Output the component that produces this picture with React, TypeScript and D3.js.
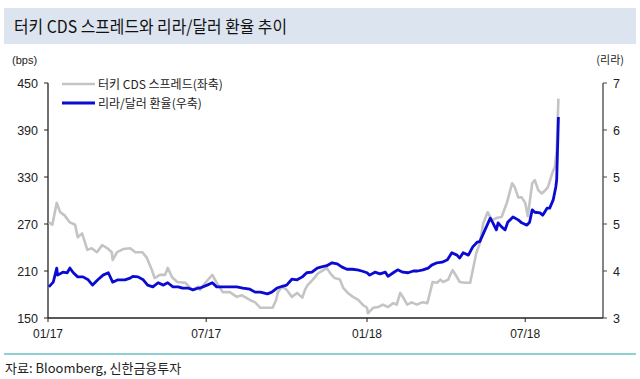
import React from "react";
import * as d3 from "d3";

const TITLE = "터키 CDS 스프레드와 리라/달러 환율 추이";
const SOURCE = "자료: Bloomberg, 신한금융투자";
const LEGEND_CDS = "터키 CDS 스프레드(좌축)";
const LEGEND_TRY = "리라/달러 환율(우축)";

const xTickDates = ["2017-01-01", "2017-07-01", "2018-01-01", "2018-07-01"];
const xTickLabels = ["01/17", "07/17", "01/18", "07/18"];
const leftTicks = [150, 210, 270, 330, 390, 450];
const rightTicks = [3, 3.8, 4.6, 5.4, 6.2, 7];

const cdsDates = [
  "2017-01-02","2017-01-06","2017-01-11","2017-01-15","2017-01-20","2017-01-26","2017-02-01","2017-02-04","2017-02-09","2017-02-15",
  "2017-02-20","2017-02-26","2017-03-04","2017-03-10","2017-03-15","2017-03-16","2017-03-21","2017-03-28","2017-04-05","2017-04-11",
  "2017-04-19","2017-04-24","2017-04-30","2017-05-03","2017-05-09","2017-05-15","2017-05-18","2017-05-23","2017-05-29","2017-06-07",
  "2017-06-15","2017-06-22","2017-06-24","2017-06-30","2017-07-08","2017-07-13","2017-07-20","2017-07-28","2017-08-05","2017-08-11",
  "2017-08-14","2017-08-20","2017-08-26","2017-09-01","2017-09-09","2017-09-15","2017-09-19","2017-09-21","2017-09-26","2017-10-01",
  "2017-10-07","2017-10-13","2017-10-19","2017-10-22","2017-10-25","2017-10-31","2017-11-06","2017-11-12","2017-11-16","2017-11-20",
  "2017-11-25","2017-12-01","2017-12-05","2017-12-10","2017-12-16","2017-12-22","2017-12-27","2018-01-01","2018-01-02","2018-01-08",
  "2018-01-14","2018-01-19","2018-01-25","2018-01-31","2018-02-04","2018-02-08","2018-02-11","2018-02-16","2018-02-21","2018-02-27",
  "2018-03-05","2018-03-11","2018-03-14","2018-03-17","2018-03-22","2018-03-26","2018-03-29","2018-04-04","2018-04-07","2018-04-09",
  "2018-04-14","2018-04-17","2018-04-23","2018-04-29","2018-05-02","2018-05-06","2018-05-10","2018-05-14","2018-05-19","2018-05-24",
  "2018-05-30","2018-06-04","2018-06-10","2018-06-16","2018-06-19","2018-06-23","2018-06-27","2018-07-01","2018-07-04","2018-07-09",
  "2018-07-12","2018-07-16","2018-07-20","2018-07-24","2018-07-27","2018-08-01","2018-08-04","2018-08-06","2018-08-08"
];
const cdsValues = [
  272,269,297,285,281,272,269,253,258,237,
  239,234,243,239,234,224,234,238,239,234,
  234,227,211,201,205,205,214,202,196,195,
  186,190,186,195,205,195,183,183,177,179,
  177,173,170,163,163,163,173,183,190,186,
  177,182,176,186,192,199,207,211,214,207,
  201,199,188,182,177,173,167,163,156,163,
  164,167,164,169,167,182,177,167,170,167,
  170,169,182,196,195,199,196,199,207,211,
  202,196,195,195,211,233,245,271,285,275,
  278,279,297,322,317,304,304,297,280,322,
  326,313,309,313,317,335,343,364,430
];

const tryDates = [
  "2017-01-02","2017-01-07","2017-01-11","2017-01-12","2017-01-18","2017-01-23","2017-01-26","2017-01-30","2017-02-04","2017-02-10",
  "2017-02-16","2017-02-21","2017-02-27","2017-03-05","2017-03-11","2017-03-16","2017-03-22","2017-03-30","2017-04-05","2017-04-08",
  "2017-04-14","2017-04-20","2017-04-25","2017-05-01","2017-05-07","2017-05-13","2017-05-18","2017-05-24","2017-05-30","2017-06-04",
  "2017-06-10","2017-06-16","2017-06-22","2017-06-24","2017-07-02","2017-07-08","2017-07-13","2017-07-20","2017-07-28","2017-08-05",
  "2017-08-12","2017-08-20","2017-08-26","2017-09-01","2017-09-09","2017-09-14","2017-09-20","2017-09-26","2017-10-01","2017-10-07",
  "2017-10-13","2017-10-19","2017-10-24","2017-10-30","2017-11-05","2017-11-10","2017-11-16","2017-11-22","2017-11-28","2017-12-03",
  "2017-12-09","2017-12-15","2017-12-21","2017-12-26","2018-01-01","2018-01-04","2018-01-10","2018-01-16","2018-01-22","2018-01-25",
  "2018-01-31","2018-02-05","2018-02-11","2018-02-17","2018-02-23","2018-02-28","2018-03-06","2018-03-12","2018-03-16","2018-03-22",
  "2018-03-28","2018-04-03","2018-04-08","2018-04-14","2018-04-17","2018-04-21","2018-04-27","2018-05-02","2018-05-07","2018-05-10",
  "2018-05-16","2018-05-22","2018-05-25","2018-05-29","2018-05-31","2018-06-04","2018-06-08","2018-06-11","2018-06-17","2018-06-23",
  "2018-06-27","2018-07-03","2018-07-06","2018-07-09","2018-07-12","2018-07-18","2018-07-21","2018-07-26","2018-07-29","2018-08-02",
  "2018-08-05","2018-08-06","2018-08-08"
];
const tryValues = [
  3.53,3.61,3.85,3.73,3.78,3.77,3.85,3.77,3.70,3.70,
  3.65,3.56,3.65,3.73,3.77,3.61,3.65,3.65,3.68,3.71,
  3.70,3.65,3.56,3.53,3.60,3.56,3.60,3.53,3.53,3.51,
  3.51,3.48,3.51,3.51,3.56,3.60,3.53,3.53,3.53,3.53,
  3.51,3.49,3.44,3.44,3.41,3.44,3.51,3.54,3.56,3.66,
  3.65,3.70,3.77,3.78,3.85,3.87,3.89,3.94,3.92,3.87,
  3.83,3.83,3.82,3.80,3.77,3.73,3.78,3.75,3.78,3.71,
  3.77,3.82,3.78,3.77,3.80,3.80,3.82,3.85,3.90,3.94,
  3.95,3.99,4.11,4.07,4.02,4.11,4.07,4.21,4.29,4.30,
  4.50,4.70,4.62,4.50,4.62,4.55,4.50,4.63,4.72,4.67,
  4.62,4.58,4.63,4.84,4.80,4.79,4.75,4.87,4.87,5.01,
  5.23,5.35,6.42
];

const W = 640;
const H = 379;
const X0 = 48;
const X1 = 603;
const YT = 83;
const YB = 318;

export default function App() {
  const parse = d3.timeParse("%Y-%m-%d");
  const x = d3
    .scaleTime()
    .domain([parse("2017-01-01") as Date, parse("2018-09-28") as Date])
    .range([X0, X1]);
  const yL = d3.scaleLinear().domain([150, 450]).range([YB, YT]);
  const yR = d3.scaleLinear().domain([3, 7]).range([YB, YT]);

  const cds = cdsDates.map((d, i) => ({ d: parse(d) as Date, v: cdsValues[i] }));
  const trl = tryDates.map((d, i) => ({ d: parse(d) as Date, v: tryValues[i] }));

  const lineL = d3
    .line<{ d: Date; v: number }>()
    .x((p) => x(p.d))
    .y((p) => yL(p.v));
  const lineR = d3
    .line<{ d: Date; v: number }>()
    .x((p) => x(p.d))
    .y((p) => yR(p.v));

  const fmtR = d3.format(".0f");
  const font = "'Liberation Sans', Arial, sans-serif";
  const kfont = "'Noto Sans CJK KR', 'Noto Sans', sans-serif";

  return (
    <svg
      width={W}
      height={H}
      style={{ position: "absolute", left: 0, top: 0, background: "#fff" }}
    >
      <rect x={4} y={8} width={632} height={36} fill="#dce4ef" />
      <text
        x={14}
        y={33}
        fontFamily={kfont}
        fontSize={17}
        fill="#111"
        textLength={273}
        lengthAdjust="spacingAndGlyphs"
      >
        {TITLE}
      </text>

      <text x={12} y={64} fontFamily={font} fontSize={11} fill="#222">
        (bps)
      </text>
      <text
        x={624}
        y={64}
        fontFamily={kfont}
        fontSize={11}
        fill="#222"
        textAnchor="end"
      >
        (리라)
      </text>

      {/* axes */}
      <line x1={X0} x2={X0} y1={YT} y2={YB} stroke="#222" strokeWidth={1.3} />
      <line x1={X1} x2={X1} y1={YT} y2={YB} stroke="#444" strokeWidth={1.3} />
      <line x1={X0} x2={X1} y1={YB} y2={YB} stroke="#222" strokeWidth={1.3} />

      {leftTicks.map((t) => (
        <g key={"l" + t}>
          <line x1={X0 - 4} x2={X0} y1={yL(t)} y2={yL(t)} stroke="#222" />
          <text
            x={38}
            y={yL(t) + 4.5}
            textAnchor="end"
            fontFamily={font}
            fontSize={12.5}
            fill="#222"
          >
            {t}
          </text>
        </g>
      ))}
      {rightTicks.map((t) => (
        <g key={"r" + t}>
          <line x1={X1} x2={X1 + 4} y1={yR(t)} y2={yR(t)} stroke="#444" />
          <text
            x={613}
            y={yR(t) + 4.5}
            fontFamily={font}
            fontSize={12.5}
            fill="#222"
          >
            {fmtR(t)}
          </text>
        </g>
      ))}
      {xTickDates.map((d, i) => {
        const px = x(parse(d) as Date);
        return (
          <g key={"x" + d}>
            <line x1={px} x2={px} y1={YB} y2={YB + 4} stroke="#222" />
            <text
              x={px}
              y={338}
              textAnchor="middle"
              fontFamily={font}
              fontSize={12}
              fill="#222"
            >
              {xTickLabels[i]}
            </text>
          </g>
        );
      })}

      {/* series */}
      <path
        d={lineL(cds) || ""}
        fill="none"
        stroke="#c4c4c4"
        strokeWidth={2.6}
        strokeLinejoin="round"
      />
      <path
        d={lineR(trl) || ""}
        fill="none"
        stroke="#0a0ad2"
        strokeWidth={2.8}
        strokeLinejoin="round"
      />

      {/* legend */}
      <line x1={62} x2={95} y1={84} y2={84} stroke="#c4c4c4" strokeWidth={2.6} />
      <text x={98} y={88.5} fontFamily={kfont} fontSize={12} fill="#222">
        {LEGEND_CDS}
      </text>
      <line x1={62} x2={95} y1={103} y2={103} stroke="#0a0ad2" strokeWidth={2.8} />
      <text x={98} y={107.5} fontFamily={kfont} fontSize={12} fill="#222">
        {LEGEND_TRY}
      </text>

      <line x1={4} x2={636} y1={354} y2={354} stroke="#8fd0d2" strokeWidth={2} />
      <text x={5} y={373} fontFamily={kfont} fontSize={13} fill="#222">
        {SOURCE}
      </text>
    </svg>
  );
}
